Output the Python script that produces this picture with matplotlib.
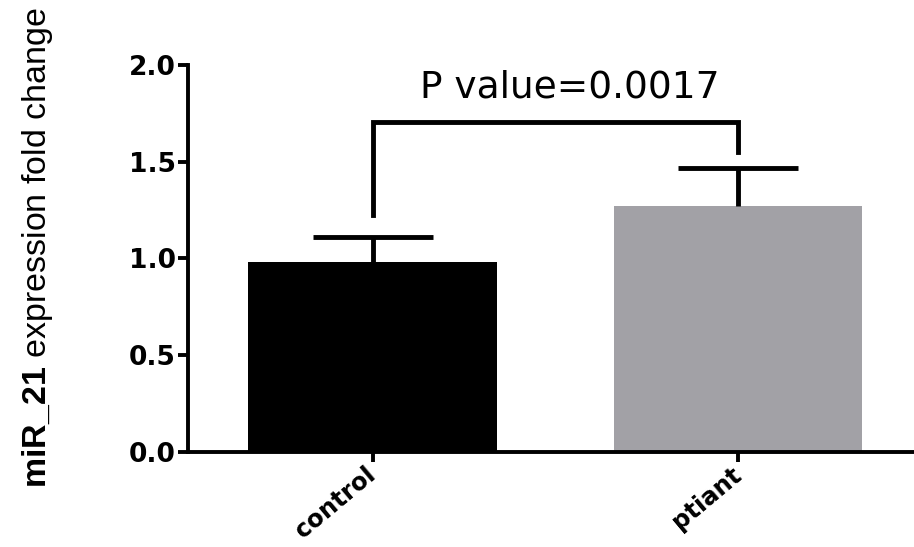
import matplotlib
matplotlib.use("Agg")
import matplotlib.pyplot as plt
import numpy as np

# data
groups = ["control", "ptiant"]
fold_change = [0.98, 1.27]
sem_upper = [0.13, 0.20]
bar_colors = ["#000000", "#a2a1a6"]

# significance bracket: left leg bottom, bracket top, right leg bottom
bracket_y = [1.225, 1.705, 1.55]
p_label = "P value=0.0017"

yticks = [0.0, 0.5, 1.0, 1.5, 2.0]

plt.rcParams["mathtext.fontset"] = "custom"
plt.rcParams["mathtext.bf"] = "Liberation Sans:bold"
plt.rcParams["mathtext.rm"] = "Liberation Sans"

fig = plt.figure(figsize=(9.14, 5.47), dpi=100)
ax = fig.add_axes([0.2057, 0.1737, 0.7943, 0.7075])

x = np.arange(len(groups))
ax.bar(x, fold_change, width=0.681, color=bar_colors, zorder=2)

# only the upper half of the error bar, like prism does
eb = ax.errorbar(x, fold_change, yerr=[np.zeros(len(x)), sem_upper],
                 fmt="none", ecolor="black", elinewidth=3.5,
                 capsize=43, capthick=3.5, zorder=3)
eb[1][0].set_visible(False)

ax.plot([x[0], x[0], x[1], x[1]],
        [bracket_y[0], bracket_y[1], bracket_y[1], bracket_y[2]],
        color="black", lw=3.5, solid_joinstyle="miter", zorder=3)
ax.text(0.54, 1.83, p_label, ha="center", va="baseline",
        fontsize=27, family="DejaVu Sans")

ax.set_xlim(-0.505, 1.4815)
ax.set_ylim(0, 2.0)
ax.set_yticks(yticks)
ax.set_yticklabels([f"{v:.1f}" for v in yticks],
                   fontsize=19, fontweight="bold", family="DejaVu Sans")
ax.set_xticks(x)
ax.set_xticklabels(groups, rotation=40, ha="right", va="center",
                   rotation_mode="anchor", fontsize=17.5,
                   fontweight="bold", family="DejaVu Sans")

for side in ["top", "right"]:
    ax.spines[side].set_visible(False)
for side in ["left", "bottom"]:
    ax.spines[side].set_linewidth(2.8)
ax.tick_params(axis="both", width=2.8, length=7, pad=2)
ax.tick_params(axis="x", pad=7)

ax.set_ylabel(r"$\mathbf{miR\_21}$ expression fold change",
              fontsize=24.5, family="Liberation Sans")
ax.yaxis.set_label_coords(-0.183, 0.528)

fig.savefig("out.png", dpi=100)
